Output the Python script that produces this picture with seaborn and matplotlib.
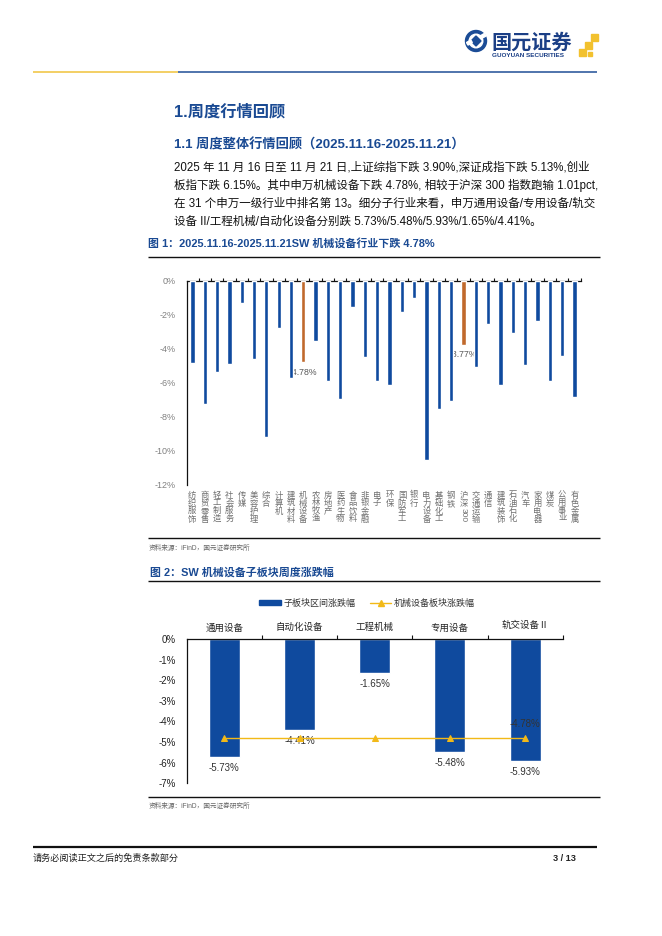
import numpy as np
import pandas as pd
import matplotlib
matplotlib.use("Agg")
import matplotlib.pyplot as plt
import matplotlib.transforms as mtransforms
from matplotlib.patches import Patch, Circle, Rectangle, Polygon
from matplotlib.lines import Line2D
import seaborn as sns

# ---------------- data ----------------
industries = ["纺织服饰", "商贸零售", "轻工制造", "社会服务", "传媒", "美容护理", "综合", "计算机",
              "建筑材料", "机械设备", "农林牧渔", "房地产", "医药生物", "食品饮料", "非银金融", "电子",
              "环保", "国防军工", "银行", "电力设备", "基础化工", "钢铁", "沪深300", "交通运输",
              "通信", "建筑装饰", "石油石化", "汽车", "家用电器", "煤炭", "公用事业", "有色金属"]
industry_changes = [-4.85, -7.26, -5.34, -4.91, -1.33, -4.58, -9.20, -2.80,
                    -5.73, -4.78, -3.52, -5.89, -6.93, -1.53, -4.50, -5.91,
                    -6.11, -1.82, -1.00, -10.55, -7.52, -7.05, -3.77, -5.05,
                    -2.56, -6.14, -3.05, -4.93, -2.35, -5.91, -4.40, -6.81]
highlighted = ["机械设备", "沪深300"]
y1_ticks = [0, -2, -4, -6, -8, -10, -12]

sub_sectors = ["通用设备", "自动化设备", "工程机械", "专用设备", "轨交设备Ⅱ"]
sub_changes = [-5.73, -4.41, -1.65, -5.48, -5.93]
sector_change = [-4.78, -4.78, -4.78, -4.78, -4.78]
y2_ticks = [0, -1, -2, -3, -4, -5, -6, -7]

BLUE = "#0F4A9E"
ORANGE = "#C0692C"
GOLD = "#F2B918"
TITLE_BLUE = "#1A4A93"

sns.set_style("white")
plt.rcParams["font.family"] = ["Liberation Sans", "Noto Sans CJK SC", "DejaVu Sans"]
plt.rcParams["axes.unicode_minus"] = False

W, H = 662, 936
fig = plt.figure(figsize=(W / 100, H / 100), dpi=100)
fig.patch.set_facecolor("white")


def fx(x):
    return x / W


def fy(y):
    return 1 - y / H


def hline(x0, x1, y, color, lw):
    fig.add_artist(Line2D([fx(x0), fx(x1)], [fy(y), fy(y)], color=color, lw=lw,
                          transform=fig.transFigure, solid_capstyle="butt"))


# ---------------- header ----------------
logo = fig.add_axes([fx(462), fy(62), 140 / W, 36 / H])
logo.set_xlim(462, 602)
logo.set_ylim(62, 26)
logo.axis("off")
logo.add_patch(Circle((476, 41), 10.5, color="#1B4C96"))
logo.add_patch(Circle((476, 41), 6.8, color="white"))
logo.add_patch(Polygon([[476, 36], [481, 41], [476, 46], [471, 41]], color="#1B4C96"))
logo.add_patch(Rectangle((466.5, 42.5), 5, 3, color="white", angle=-30))
logo.add_patch(Rectangle((480, 36), 5, 3, color="white", angle=-30))
for (sx, sy, s) in [(579, 49, 7), (585, 41.5, 7), (591, 34, 7), (588, 52, 4)]:
    logo.add_patch(Rectangle((sx, sy), s, s, color="#F2C12E"))
fig.text(fx(491), fy(42), "国元证券", fontsize=14.5, fontweight="bold", color="#1B3F86",
         va="center", ha="left", family=["Noto Sans CJK SC"])
fig.text(fx(491.5), fy(55.5), "GUOYUAN SECURITIES", fontsize=4.6, fontweight="bold", color="#1B3F86",
         va="center", ha="left")

hline(33, 178, 72, "#F0C23A", 1.1)
hline(178, 597, 72, "#1F4E96", 1.1)

# ---------------- headings and body ----------------
fig.text(fx(174), fy(112), "1.周度行情回顾", fontsize=11.7, fontweight="bold", color=TITLE_BLUE,
         va="center", ha="left")
fig.text(fx(174), fy(145), "1.1 周度整体行情回顾（2025.11.16-2025.11.21）", fontsize=9.5,
         fontweight="bold", color=TITLE_BLUE, va="center", ha="left")
body = ["2025 年 11 月 16 日至 11 月 21 日,上证综指下跌 3.90%,深证成指下跌 5.13%,创业",
        "板指下跌 6.15%。其中申万机械设备下跌 4.78%, 相较于沪深 300 指数跑输 1.01pct,",
        "在 31 个申万一级行业中排名第 13。细分子行业来看，申万通用设备/专用设备/轨交",
        "设备 II/工程机械/自动化设备分别跌 5.73%/5.48%/5.93%/1.65%/4.41%。"]
for k, line in enumerate(body):
    fig.text(fx(174), fy(167.5 + 18.2 * k), line, fontsize=8.3, color="#111111",
             va="center", ha="left")

# ---------------- figure 1 ----------------
fig.text(fx(148), fy(243.5), "图 1：2025.11.16-2025.11.21SW 机械设备行业下跌 4.78%", fontsize=7.9,
         fontweight="bold", color=TITLE_BLUE, va="center", ha="left")
hline(148, 600, 256.5, "#111111", 1.0)

ax1 = fig.add_axes([fx(186.7), fy(485), (580.7 - 186.7) / W, (485 - 280.7) / H])
df1 = pd.DataFrame({"industry": industries, "change": industry_changes})
pal1 = [ORANGE if c in highlighted else BLUE for c in industries]
sns.barplot(data=df1, x="industry", y="change", hue="industry", palette=pal1, legend=False,
            width=0.35, saturation=1, ax=ax1, zorder=3)
ax1.set_ylim(-12, 0)
ax1.set_xlim(-0.46, len(industries) - 0.5)
ax1.set_yticks(y1_ticks)
ax1.set_yticklabels([f"{t}%" for t in y1_ticks])
ax1.tick_params(axis="y", length=0, labelsize=6.5, labelcolor="#808080", pad=8)
ax1.xaxis.set_ticks_position("top")
ax1.set_xticks(np.arange(len(industries)) + 0.5, labels=[""] * len(industries))
ax1.tick_params(axis="x", direction="out", length=2.5, width=0.8, color="#111111",
                top=True, bottom=False, labeltop=False, labelbottom=False)
ax1.set_xlabel("")
ax1.set_ylabel("")
for s in ["bottom", "right"]:
    ax1.spines[s].set_visible(False)
for s in ["top", "left"]:
    ax1.spines[s].set_color("#111111")
    ax1.spines[s].set_linewidth(0.9)

for i, (name, v) in enumerate(zip(industries, industry_changes)):
    if name in highlighted:
        ax1.text(i, v - 0.32, f"{v:.2f}%", ha="center", va="top", fontsize=6.3,
                 color="#595959", zorder=2)

trans1 = mtransforms.blended_transform_factory(ax1.transData, ax1.transAxes)
for i, name in enumerate(industries):
    if name == "沪深300":
        ax1.text(i, -0.032, "沪\n深", ha="center", va="top", fontsize=6, color="#707070",
                 linespacing=1.0, transform=trans1)
        ax1.text(i, -0.115, "300", ha="center", va="top", fontsize=6, color="#707070",
                 rotation=-90, transform=trans1)
    else:
        ax1.text(i, -0.032, "\n".join(name), ha="center", va="top", fontsize=6, color="#707070",
                 linespacing=1.0, transform=trans1)

hline(148, 600, 538, "#111111", 1.0)
fig.text(fx(149), fy(548), "资料来源：iFinD，国元证券研究所", fontsize=4.8, color="#666666",
         va="center", ha="left")

# ---------------- figure 2 ----------------
fig.text(fx(150), fy(572.5), "图 2：SW 机械设备子板块周度涨跌幅", fontsize=7.9,
         fontweight="bold", color=TITLE_BLUE, va="center", ha="left")
hline(148, 600, 581, "#111111", 1.0)

ax2 = fig.add_axes([fx(186.7), fy(783.3), (562.7 - 186.7) / W, (783.3 - 639) / H])
df2 = pd.DataFrame({"sector": sub_sectors, "change": sub_changes, "board": sector_change})
sns.barplot(data=df2, x="sector", y="change", color=BLUE, width=0.41, saturation=1, ax=ax2, zorder=2)
sns.pointplot(data=df2, x="sector", y="board", color=GOLD, markers="^", errorbar=None,
              markersize=5, linewidth=1.0, ax=ax2, zorder=4)
ax2.set_ylim(-7, 0)
ax2.set_xlim(-0.5, len(sub_sectors) - 0.5)
ax2.set_yticks(y2_ticks)
ax2.set_yticklabels([f"{t}%" for t in y2_ticks])
ax2.tick_params(axis="y", length=0, labelsize=7, labelcolor="#222222", pad=8)
ax2.xaxis.set_ticks_position("top")
ax2.set_xticks(np.arange(len(sub_sectors)) + 0.5, labels=[""] * len(sub_sectors))
ax2.tick_params(axis="x", direction="out", length=3, width=0.8, color="#111111",
                top=True, bottom=False, labeltop=False, labelbottom=False)
ax2.set_xlabel("")
ax2.set_ylabel("")
for s in ["bottom", "right"]:
    ax2.spines[s].set_visible(False)
for s in ["top", "left"]:
    ax2.spines[s].set_color("#111111")
    ax2.spines[s].set_linewidth(0.9)

for i, v in enumerate(sub_changes):
    ax2.text(i, v - 0.54, f"{v:.2f}%", ha="center", va="center", fontsize=7, color="#333333",
             zorder=3)
ax2.text(len(sub_sectors) - 1, sector_change[-1] + 0.64, f"{sector_change[-1]:.2f}%",
         ha="center", va="center", fontsize=7, color="#333333", zorder=5)

trans2 = mtransforms.blended_transform_factory(ax2.transData, ax2.transAxes)
for i, name in enumerate(sub_sectors):
    yy = 1.078 if i < len(sub_sectors) - 1 else 1.097
    ax2.text(i, yy, name, ha="center", va="center", fontsize=6.8, color="#222222",
             transform=trans2)

leg_handles = [Patch(facecolor=BLUE, edgecolor=BLUE, label="子板块区间涨跌幅"),
               Line2D([], [], color=GOLD, marker="^", markersize=4, lw=1.0, label="机械设备板块涨跌幅")]
fig.legend(handles=leg_handles, loc="center", bbox_to_anchor=(fx(367), fy(603)), ncol=2,
           frameon=False, fontsize=6.5, handlelength=2.4, handleheight=0.45,
           columnspacing=1.6, handletextpad=0.3, labelcolor="#333333")

hline(148, 600, 796.7, "#111111", 1.0)
fig.text(fx(149), fy(806.7), "资料来源：iFinD，国元证券研究所", fontsize=4.8, color="#666666",
         va="center", ha="left")

# ---------------- footer ----------------
hline(33, 597, 846.5, "#111111", 1.6)
fig.text(fx(33), fy(858.5), "请务必阅读正文之后的免责条款部分", fontsize=6.6, color="#222222",
         va="center", ha="left")
fig.text(fx(576), fy(858.5), "3 / 13", fontsize=6.6, fontweight="bold", color="#222222",
         va="center", ha="right")

fig.savefig("out.png", dpi=100, facecolor="white")
